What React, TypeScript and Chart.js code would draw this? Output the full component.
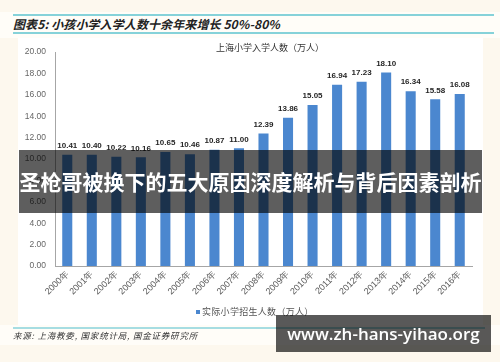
import React, { useEffect, useRef } from "react";
import { Chart, registerables } from "chart.js";

Chart.register(...registerables);

const years = ["2000年","2001年","2002年","2003年","2004年","2005年","2006年","2007年","2008年","2009年","2010年","2011年","2012年","2013年","2014年","2015年","2016年"];
const enrollment = [10.41,10.40,10.22,10.16,10.65,10.46,10.87,11.00,12.39,13.86,15.05,16.94,17.23,18.10,16.34,15.58,16.08];
const seriesName = "实际小学招生人数（万人）";
const chartTitle = "上海小学入学人数（万人）";
const headerTitle = "图表5: 小孩小学入学人数十余年来增长 50%-80%";
const sourceText = "来源: 上海教委, 国家统计局, 国金证券研究所";
const bannerText = "圣枪哥被换下的五大原因深度解析与背后因素剖析";
const watermarkText = "www.zh-hans-yihao.org";

const BAR = "#4b87cf";

const valueLabels = {
  id: "valueLabels",
  afterDatasetsDraw(chart: any) {
    const ctx = chart.ctx;
    const meta = chart.getDatasetMeta(0);
    ctx.save();
    ctx.font = "bold 8px 'Liberation Sans', Arial, sans-serif";
    ctx.fillStyle = "#262626";
    ctx.textAlign = "center";
    ctx.textBaseline = "middle";
    meta.data.forEach((el: any, i: number) => {
      const v = chart.data.datasets[0].data[i];
      ctx.fillText(v.toFixed(2), el.x, el.y - 9);
    });
    ctx.restore();
  },
};

export default function App() {
  const ref = useRef<HTMLCanvasElement | null>(null);
  useEffect(() => {
    const chart = new Chart(ref.current as HTMLCanvasElement, {
      type: "bar",
      data: {
        labels: years,
        datasets: [
          {
            label: seriesName,
            data: enrollment,
            backgroundColor: BAR,
            barPercentage: 0.41,
            categoryPercentage: 1,
          },
        ],
      },
      options: {
        animation: false,
        responsive: false,
        maintainAspectRatio: false,
        layout: { padding: { top: 9, bottom: 19, right: 11, left: 0 } },
        plugins: {
          legend: { display: false },
          title: { display: false },
          tooltip: { enabled: false },
        },
        scales: {
          x: {
            grid: { display: false, drawTicks: false },
            border: { display: true, color: "#a6a6a6" },
            ticks: {
              font: { size: 9, family: "'Liberation Sans', Arial, sans-serif" },
              color: "#595959",
              minRotation: 45,
              maxRotation: 45,
              padding: 3,
              autoSkip: false,
            },
            afterFit: (s: any) => { s.height = 40; },
          },
          y: {
            min: 0,
            max: 20,
            grid: { display: false, drawTicks: false },
            border: { display: true, color: "#a6a6a6" },
            ticks: {
              stepSize: 2,
              font: { size: 8.5, family: "'Liberation Sans', Arial, sans-serif" },
              color: "#666666",
              padding: 9,
              callback: (v: any) => Number(v).toFixed(2),
            },
            afterFit: (s: any) => { s.width = 37; },
          },
        },
      },
      plugins: [valueLabels],
    });
    return () => chart.destroy();
  }, []);

  return (
    <div style={{ position: "absolute", left: 0, top: 0, width: 500, height: 362, background: "#fdf8ee", overflow: "hidden", fontFamily: "'Noto Sans CJK SC', sans-serif" }}>
      <div style={{ position: "absolute", left: 0, top: 12, width: 500, height: 26, background: "#fffdf8" }} />
      <div style={{ position: "absolute", left: 18, top: 38, width: 465, height: 287, background: "#ffffff" }} />
      <div style={{ position: "absolute", left: 0, top: 325, width: 500, height: 20, background: "#fffdf8" }} />
      <div style={{ position: "absolute", left: 13, top: 14, width: 481, height: 2, background: "#86d2d9" }} />
      <div style={{ position: "absolute", left: 13, top: 32, width: 481, height: 2, background: "#86d2d9" }} />
      <div style={{ position: "absolute", left: 13, top: 16, height: 16, lineHeight: "16px", fontSize: 12, fontWeight: 700, fontStyle: "italic", color: "#222", whiteSpace: "nowrap", letterSpacing: 0.1 }}>
        {headerTitle}
      </div>
      <canvas ref={ref} width={465} height={287} style={{ position: "absolute", left: 18, top: 38, width: 465, height: 287 }} />
      <div style={{ position: "absolute", left: 150, width: 240, top: 41, textAlign: "center", fontSize: 9, lineHeight: "14px", color: "#333", whiteSpace: "nowrap" }}>
        {chartTitle}
      </div>
      <div style={{ position: "absolute", left: 196, top: 305, fontSize: 9, lineHeight: "14px", color: "#555", whiteSpace: "nowrap", display: "flex", alignItems: "center", letterSpacing: 0.3 }}>
        <span style={{ display: "inline-block", width: 4, height: 4, background: BAR, marginRight: 2 }} />
        <span>{seriesName}</span>
      </div>
      <div style={{ position: "absolute", left: 13, top: 327, width: 472, height: 2, background: "#a6dde2" }} />
      <div style={{ position: "absolute", left: 13, top: 329, fontSize: 8.5, lineHeight: "13px", fontStyle: "italic", color: "#333", whiteSpace: "nowrap", letterSpacing: 0.8 }}>
        {sourceText}
      </div>
      <div style={{ position: "absolute", left: 19, top: 150, width: 463, height: 63, background: "rgba(0,0,0,0.63)", display: "flex", alignItems: "center", justifyContent: "center" }}>
        <span style={{ color: "#fff", fontSize: 21, fontWeight: 700, whiteSpace: "nowrap", lineHeight: "63px" }}>{bannerText}</span>
      </div>
      <div style={{ position: "absolute", left: 276, top: 315, width: 215, height: 37, background: "rgba(0,0,0,0.65)", display: "flex", alignItems: "center", justifyContent: "center" }}>
        <span style={{ color: "#fff", fontSize: 17, fontWeight: 600, fontFamily: "'Open Sans', sans-serif", whiteSpace: "nowrap" }}>{watermarkText}</span>
      </div>
    </div>
  );
}
